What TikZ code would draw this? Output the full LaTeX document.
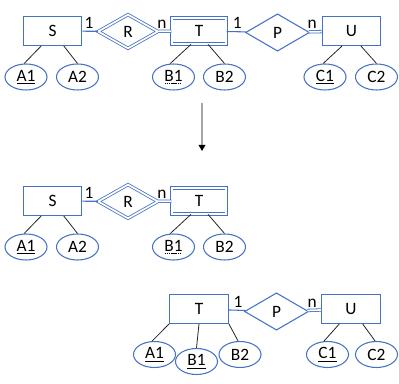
\documentclass[tikz,border=0pt]{standalone}
\usepackage{fontspec}
\setmainfont{Carlito}
\usetikzlibrary{arrows.meta,shapes.geometric}
\definecolor{erblue}{RGB}{68,114,196}
\newcommand{\keyul}[1]{\setbox0\hbox{#1}\rlap{\raisebox{-2.3pt}{\rule{\wd0}{0.6pt}}}\box0}
\newcommand{\partul}[1]{\setbox0\hbox{#1}\rlap{\raisebox{-2.3pt}{\hbox to \wd0{\leaders\hbox to 1.6pt{\hss\rule{1pt}{0.6pt}\hss}\hfill}}}\box0}

\begin{document}
\begin{tikzpicture}[
  x=0.75pt, y=-0.75pt,
  font=\fontsize{13}{15}\selectfont,
  entity/.style={
    rectangle, draw=erblue, line width=0.8pt,
    minimum width=44pt, minimum height=21.5pt, inner sep=0pt
  },
  weak/.style={entity, line width=0.6pt, double, double distance=1.3pt,
    minimum width=41pt, minimum height=19.5pt},
  rel/.style={
    diamond, draw=erblue, line width=0.8pt,
    minimum width=48pt, minimum height=28pt, inner sep=0pt
  },
  weakrel/.style={rel, line width=0.6pt, double, double distance=1.3pt,
    minimum width=45pt, minimum height=25.5pt},
  attr/.style={
    ellipse, draw=erblue, line width=0.8pt,
    minimum width=31.5pt, minimum height=19.5pt, inner sep=0pt
  },
  link/.style={draw=erblue, line width=0.8pt},
  total/.style={draw=erblue, line width=0.6pt, double, double distance=1.3pt},
  attrline/.style={draw=black!85, line width=0.6pt},
  card/.style={above=0.8pt, inner sep=1pt},
  arr/.style={-{Triangle[length=4.5pt,width=5pt,black]}, draw=gray!70, line width=0.9pt},
]
\useasboundingbox (0,0) rectangle (400,384);
\draw[gray!35, line width=0.8pt] (399.4,0) -- (399.4,384);

% original schema
\node[entity]  (S) at (52.5,31) {S};
\node[weakrel] (R) at (128,31.5) {R};
\node[weak]    (T) at (199,31) {T};
\node[rel]     (P) at (277.5,32.5) {P};
\node[entity]  (U) at (351.5,31) {U};

\node[attr] (A1) at (26,77)    {\keyul{A1}};
\node[attr] (A2) at (77.5,77)  {A2};
\node[attr] (B1) at (173.5,77) {\partul{B1}};
\node[attr] (B2) at (224.5,77) {B2};
\node[attr] (C1) at (325,77)   {\keyul{C1}};
\node[attr] (C2) at (376.5,77) {C2};

\draw[link]  (S) -- node[card, pos=0.43] {1} (R);
\draw[total] (R) -- node[card, pos=0.3]  {n} (T);
\draw[link]  (T) -- node[card, pos=0.55] {1} (P);
\draw[total] (P) -- node[card, pos=0.25] {n} (U);

\foreach \a/\b in {S.-127/A1.98, S.-53/A2.north, T.-121/B1.104, T.-56/B2.north,
                   U.-122/C1.98, U.-58/C2.north}
  \draw[attrline] (\a) -- (\b);

\coordinate (down1) at (202,103);
\coordinate (down2) at (202,151);
\draw[arr] (down1) -- (down2);

% weak entity part
\node[entity]  (S2) at (52.5,201) {S};
\node[weakrel] (R2) at (128,201.5) {R};
\node[weak]    (T2) at (199,201) {T};

\node[attr] (A1m) at (26,247)    {\keyul{A1}};
\node[attr] (A2m) at (77.5,247)  {A2};
\node[attr] (B1m) at (173.5,247) {\partul{B1}};
\node[attr] (B2m) at (224.5,247) {B2};

\draw[link]  (S2) -- node[card, pos=0.43] {1} (R2);
\draw[total] (R2) -- node[card, pos=0.3]  {n} (T2);

\foreach \a/\b in {S2.-127/A1m.98, S2.-53/A2m.north, T2.-121/B1m.104, T2.-56/B2m.north}
  \draw[attrline] (\a) -- (\b);

% T as strong entity
\node[entity] (T3) at (199,309)   {T};
\node[rel]    (P3) at (276.5,311.5) {P};
\node[entity] (U3) at (351,309)   {U};

\node[attr] (A1b) at (154.5,354.5) {\keyul{A1}};
\node[attr] (B1b) at (196.5,361.5) {\keyul{B1}};
\node[attr] (B2b) at (240,354.5)   {B2};
\node[attr] (C1b) at (327.5,354.5) {\keyul{C1}};
\node[attr] (C2b) at (376.5,354.5) {C2};

\draw[link]  (T3) -- node[card, pos=0.55] {1} (P3);
\draw[total] (P3) -- node[card, pos=0.35] {n} (U3);

\foreach \a/\b in {T3.south west/A1b.100, T3.south/B1b.north, T3.south east/B2b.98,
                   U3.-128/C1b.105, U3.-52/C2b.96}
  \draw[attrline] (\a) -- (\b);

\end{tikzpicture}
\end{document}
